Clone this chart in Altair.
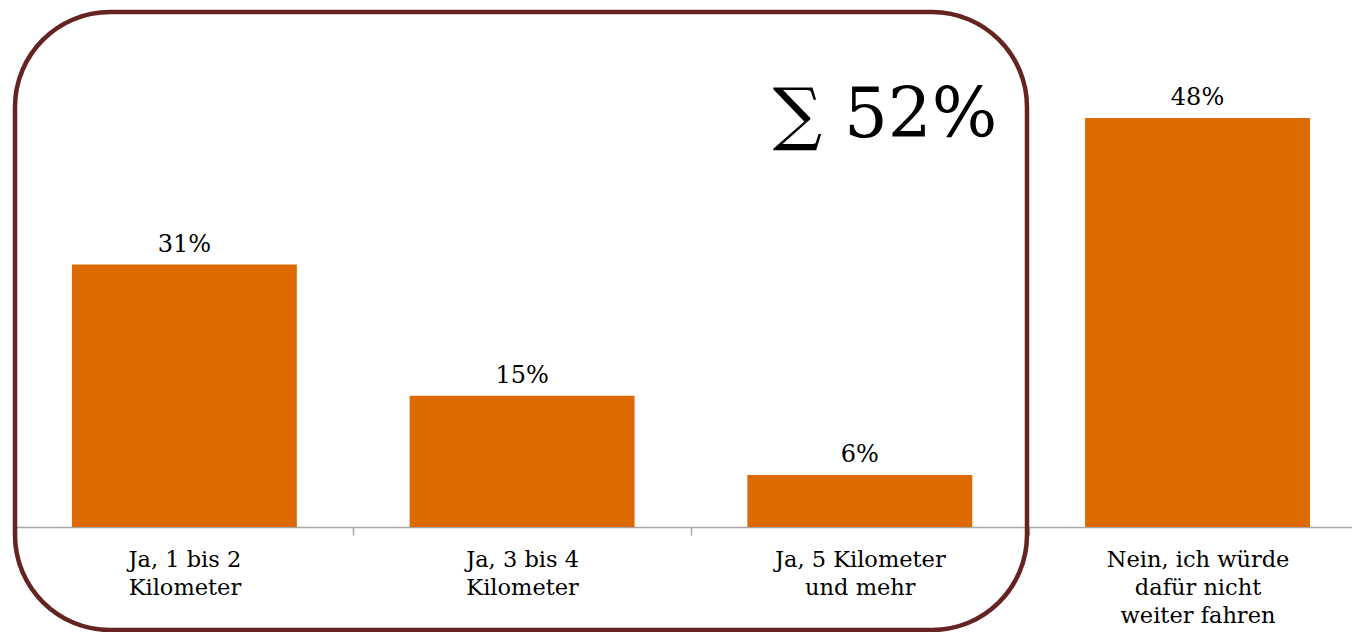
import altair as alt
import pandas as pd

categories = [
    "Ja, 1 bis 2 Kilometer",
    "Ja, 3 bis 4 Kilometer",
    "Ja, 5 Kilometer und mehr",
    "Nein, ich würde dafür nicht weiter fahren",
]
label_lines = [
    "Ja, 1 bis 2|Kilometer",
    "Ja, 3 bis 4|Kilometer",
    "Ja, 5 Kilometer|und mehr",
    "Nein, ich würde|dafür nicht|weiter fahren",
]
values = [30.8, 15.4, 6.1, 48.0]
value_labels = ["31%", "15%", "6%", "48%"]
sum_label = "∑ 52%"

df = pd.DataFrame({
    "cat": categories,
    "lines": label_lines,
    "value": values,
    "label": value_labels,
})

FONT = "DejaVu Serif"
ORANGE = "#DC6A00"
FRAME = "#652321"

label_expr = "split({" + ", ".join(
    f"'{c}': '{l}'" for c, l in zip(categories, label_lines)
) + "}[datum.label], '|')"

x = alt.X(
    "cat:N",
    sort=categories,
    scale=alt.Scale(paddingInner=0.334, paddingOuter=0.145, align=0.571),
    axis=alt.Axis(
        title=None,
        labelAngle=0,
        labelExpr=label_expr,
        labelFont=FONT,
        labelFontSize=22.5,
        labelColor="#000000",
        labelLineHeight=28,
        labelPadding=13,
        labelBaseline="top",
        labelLimit=400,
        labelOverlap=False,
        labelOffset=168.8,
        domainColor="#A6A6A6",
        domainWidth=1.5,
        tickColor="#A6A6A6",
        tickWidth=1.5,
        tickSize=8,
        tickOffset=-168.8,
    ),
)
y = alt.Y("value:Q", scale=alt.Scale(domain=[0, 48]), axis=None)

base = alt.Chart(df)

bars = base.mark_bar(color=ORANGE).encode(x=x, y=y)

texts = base.mark_text(
    font=FONT, fontSize=24, color="#000000", baseline="alphabetic", dy=-13
).encode(x=x, y=y, text="label:N")

frame = alt.Chart(pd.DataFrame({"k": [0]})).mark_rect(
    fill=None, stroke=FRAME, strokeWidth=4.5, cornerRadius=95
).encode(
    x=alt.value(-1), x2=alt.value(1011), y=alt.value(-106), y2=alt.value(512)
)

sum_text = alt.Chart(pd.DataFrame({"t": [sum_label]})).mark_text(
    font=FONT, fontSize=69, color="#000000", align="center", baseline="alphabetic"
).encode(x=alt.value(869), y=alt.value(19), text="t:N")

chart = alt.layer(bars, texts, frame, sum_text).properties(
    width=1336,
    height=409,
    autosize=alt.AutoSizeParams(type="none"),
    padding={"left": 16, "top": 118, "right": 0, "bottom": 105},
).configure_view(stroke=None)

chart.save("out.html", embed_options={"renderer": "svg", "actions": False})
